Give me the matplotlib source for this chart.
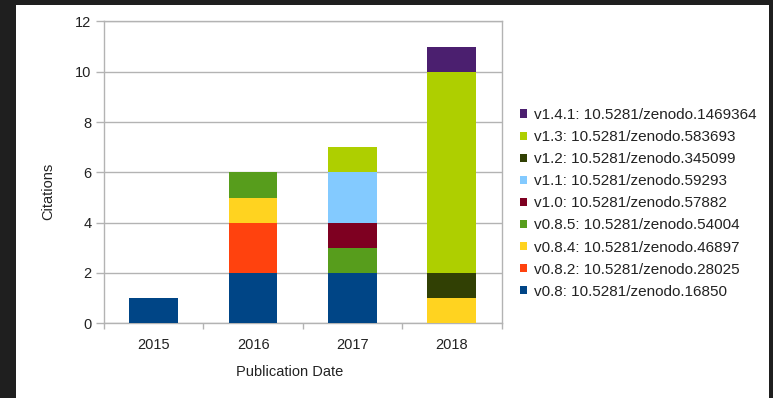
import matplotlib
matplotlib.use("Agg")
import matplotlib.pyplot as plt
from matplotlib.patches import Rectangle, Patch
import numpy as np

plt.rcParams['font.family'] = ['Liberation Sans', 'DejaVu Sans']

years = ["2015", "2016", "2017", "2018"]
versions = ["v0.8: 10.5281/zenodo.16850",
            "v0.8.2: 10.5281/zenodo.28025",
            "v0.8.4: 10.5281/zenodo.46897",
            "v0.8.5: 10.5281/zenodo.54004",
            "v1.0: 10.5281/zenodo.57882",
            "v1.1: 10.5281/zenodo.59293",
            "v1.2: 10.5281/zenodo.345099",
            "v1.3: 10.5281/zenodo.583693",
            "v1.4.1: 10.5281/zenodo.1469364"]
v0_8 = [1, 2, 2, 0]
v0_8_2 = [0, 2, 0, 0]
v0_8_4 = [0, 1, 0, 1]
v0_8_5 = [0, 1, 1, 0]
v1_0 = [0, 0, 1, 0]
v1_1 = [0, 0, 2, 0]
v1_2 = [0, 0, 0, 1]
v1_3 = [0, 0, 1, 8]
v1_4_1 = [0, 0, 0, 1]
series = [v0_8, v0_8_2, v0_8_4, v0_8_5, v1_0, v1_1, v1_2, v1_3, v1_4_1]
colors = ["#004586", "#ff420e", "#ffd320", "#579d1c", "#7e0021",
          "#83caff", "#314004", "#aecf00", "#4b1f6f"]

W, H = 773, 398
fig = plt.figure(figsize=(W / 100, H / 100), dpi=100, facecolor="#1f1f1f")
fig.patches.append(Rectangle((16 / W, 0), (769 - 16) / W, (H - 5) / H,
                             transform=fig.transFigure, facecolor="white",
                             edgecolor="none", zorder=-10))

ax = fig.add_axes([104 / W, (H - 323.3) / H, (501.5 - 104) / W, (323.3 - 21.4) / H])
ax.set_zorder(1)
ax.set_facecolor("white")

x = np.arange(len(years))
bottom = np.zeros(len(years))
for vals, col in zip(series, colors):
    v = np.array(vals, dtype=float)
    ax.bar(x, v, width=0.49, bottom=bottom, color=col, zorder=3, linewidth=0)
    bottom += v

grey = "#b3b3b3"
ax.set_ylim(0, 12)
ax.set_xlim(-0.5, 3.5)
ax.set_yticks(np.arange(0, 13, 2))
ax.yaxis.grid(True, color=grey, linewidth=1, zorder=0)
ax.set_axisbelow(True)
for s in ax.spines.values():
    s.set_color(grey)
    s.set_linewidth(1)

ax.set_xticks(np.arange(-0.5, 4, 1))
ax.set_xticklabels([])
ax.set_xticks(x, minor=True)
ax.set_xticklabels(years, minor=True)
ax.tick_params(axis='x', which='major', length=4, color=grey, width=1)
ax.tick_params(axis='x', which='minor', length=0, pad=10.5, labelsize=10.5, labelcolor="#222222")
ax.tick_params(axis='y', length=6, color=grey, width=1, pad=3, labelsize=10.5, labelcolor="#222222")

fig.text(290 / W, 1 - 372 / H, "Publication Date", ha="center", va="center",
         fontsize=10.5, color="#222222")
fig.text(48 / W, 1 - 191 / H, "Citations", ha="center", va="center",
         rotation=90, fontsize=10.5, color="#222222")

handles = [Patch(facecolor=c, edgecolor="none") for c in colors]
leg = fig.legend(handles[::-1], versions[::-1], loc="center left",
                 bbox_to_anchor=(520 / W, 1 - 203.4 / H), frameon=False,
                 fontsize=11, handlelength=0.45, handleheight=0.45,
                 handletextpad=0.45, labelspacing=0.53, borderpad=0,
                 borderaxespad=0)
for t in leg.get_texts():
    t.set_color("#222222")

fig.savefig("out.png", dpi=100, facecolor=fig.get_facecolor())
